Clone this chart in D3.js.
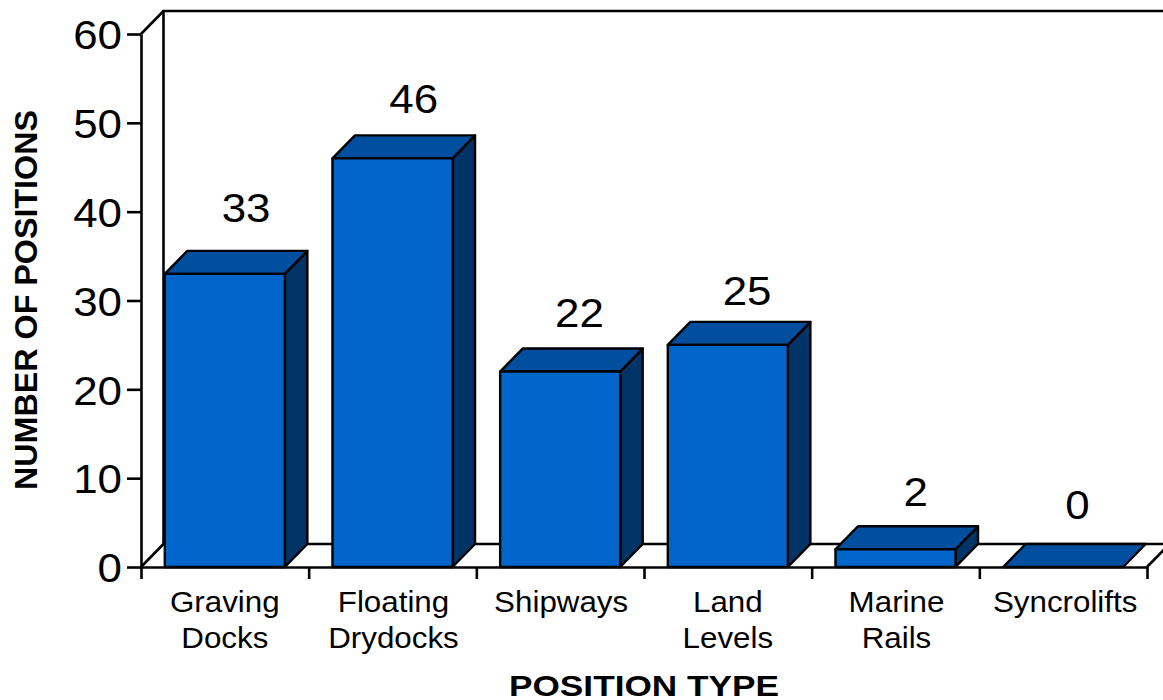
<!DOCTYPE html>
<html><head><meta charset="utf-8">
<script src="https://cdn.jsdelivr.net/npm/d3@7"></script>
<style>html,body{margin:0;padding:0;background:#fff;overflow:hidden}svg{display:block}text{font-family:"Liberation Sans",Arial,sans-serif;fill:#000}</style>
</head><body><script>
const categories = ["Graving Docks","Floating Drydocks","Shipways","Land Levels","Marine Rails","Syncrolifts"];
const categoryLines = [["Graving","Docks"],["Floating","Drydocks"],["Shipways"],["Land","Levels"],["Marine","Rails"],["Syncrolifts"]];
const positions = [33,46,22,25,2,0];
const yTicks = [0,10,20,30,40,50,60];
const yTitle = "NUMBER OF POSITIONS";
const xTitle = "POSITION TYPE";

// layout (separate from data)
const W=1163,H=700,dx=22.5,dy=23;
const labelDX=[10,10,8,8,9,3], labelLift=[52,45,45,40,43,48], catDX=[0,1,1,0,1,2];
const svg=d3.select("body").append("svg").attr("width",W).attr("height",H);
const x=d3.scaleBand().domain(categories).range([141,1147]).paddingInner(0.284).paddingOuter(0.142);
const y=d3.scaleLinear().domain([0,60]).range([567,34]);
const line=d3.line();
const ink={fill:"none",stroke:"#000","stroke-width":2.6};
const S=(sel,o)=>{for(const k in o)sel.attr(k,o[k]);return sel};
const stretch=(t,f)=>t.attr("lengthAdjust","spacingAndGlyphs").attr("textLength",t.node().getComputedTextLength()*f);

// walls
const wall=svg.append("g");
const backX=x.range()[0]+dx, topY=y(60)-dy, floorY=y(0)-dy;
S(wall.append("path").attr("d",line([[W,topY],[backX,topY],[backX,floorY],[W,floorY]])),ink);
S(wall.append("path").attr("d",line([[x.range()[0],y(60)],[backX,topY]])),ink);
S(wall.append("path").attr("d",line([[x.range()[0],y(0)],[backX,floorY]])),ink);
S(wall.append("path").attr("d",line([[x.range()[1],y(0)],[x.range()[1]+dx,floorY]])),ink);

// bars
const bars=svg.append("g").selectAll("g").data(categories).join("g");
const joinAttr={stroke:"#000","stroke-width":2.4,"stroke-linejoin":"round"};
bars.each(function(c,i){
  const g=d3.select(this),l=x(c),r=l+x.bandwidth(),t=y(positions[i]),b=y(0);
  if(positions[i]>0){
    S(g.append("path").attr("d",line([[r,b],[r+dx,b-dy],[r+dx,t-dy],[r,t]])+"Z").attr("fill","#003366"),joinAttr);
  }
  S(g.append("path").attr("d",line([[l,t],[l+dx,t-dy],[r+dx,t-dy],[r,t]])+"Z").attr("fill","#004f9f"),joinAttr);
  if(positions[i]>0){
    S(g.append("rect").attr("x",l).attr("y",t).attr("width",x.bandwidth()).attr("height",b-t).attr("fill","#0066cc"),joinAttr);
  }
  const v=g.append("text").attr("x",l+x.bandwidth()/2+dx/2+labelDX[i]).attr("y",t-labelLift[i])
   .attr("text-anchor","middle").attr("font-size",41).text(positions[i]);
  stretch(v,1.07);
});

// axes
const yAxis=d3.axisLeft(y).tickValues(yTicks).tickSize(14).tickPadding(5).tickSizeOuter(0);
const gy=svg.append("g").attr("transform","translate(141,0)").call(yAxis);
gy.selectAll("text").attr("font-size",41).attr("dy","0.36em").attr("font-family","Liberation Sans").attr("fill","#000").each(function(){stretch(d3.select(this),1.07)});
gy.selectAll("line,path").attr("stroke","#000").attr("stroke-width",2.6);

const xSlots=d3.scaleLinear().domain([0,categories.length]).range(x.range());
const gx=svg.append("g").attr("transform","translate(0,567)").call(d3.axisBottom(xSlots).ticks(categories.length).tickSize(12).tickSizeOuter(0).tickFormat(""));
gx.selectAll("line,path").attr("stroke","#000").attr("stroke-width",2.6);

const lbl=svg.append("g");
categories.forEach((c,i)=>{
  categoryLines[i].forEach((t,j)=>{
    const e=lbl.append("text").attr("x",x(c)+x.bandwidth()/2+catDX[i]).attr("y",612+j*36).attr("text-anchor","middle")
      .attr("font-size",29).text(t);
    stretch(e,1.08);
  });
});
svg.append("text").attr("transform","translate(37,300) rotate(-90)").attr("text-anchor","middle").attr("font-size",32).attr("font-weight","bold").attr("textLength",380).attr("lengthAdjust","spacingAndGlyphs").text(yTitle);
svg.append("text").attr("x",644).attr("y",695.5).attr("text-anchor","middle").attr("font-size",30).attr("font-weight","bold").attr("textLength",270).attr("lengthAdjust","spacingAndGlyphs").text(xTitle);
</script></body></html>
